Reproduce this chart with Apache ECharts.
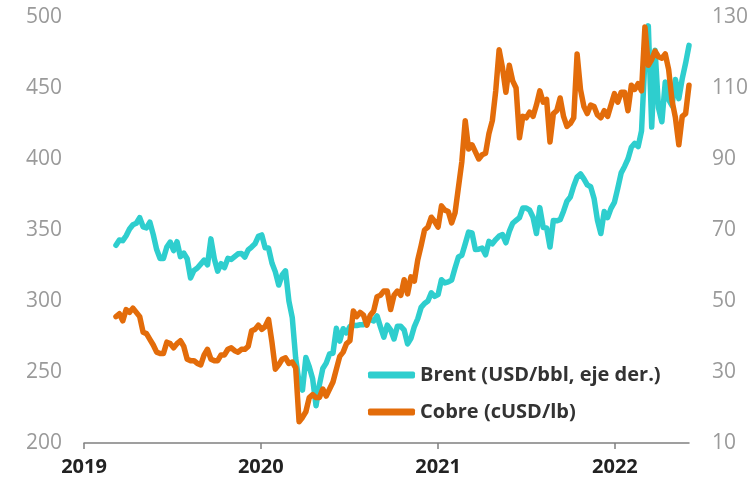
<!DOCTYPE html>
<html>
<head>
<meta charset="utf-8">
<script src="https://cdn.jsdelivr.net/npm/echarts@6/dist/echarts.min.js"></script>
<style>
  html, body { margin: 0; padding: 0; background: #fff; }
  #chart { width: 753px; height: 481px; }
</style>
</head>
<body>
<div id="chart"></div>
<script>
// semanal (viernes), desde 2019-03-08 hasta 2022-06-03
const firstWeek = '2019-03-08'

// Brent, USD/bbl (eje derecho)
const brent2019 = [65.7, 67.2, 67.0, 68.4, 70.3, 71.5, 71.9, 73.5, 70.9, 70.6, 72.2, 68.7, 64.5,
  62.0, 62.0, 65.2, 66.6, 64.2, 66.7, 62.5, 63.5, 61.9, 56.5, 58.6, 59.3, 60.4,
  61.5, 60.2, 67.5, 61.9, 58.4, 60.5, 59.4, 62.0, 61.7, 62.5, 63.3, 63.4, 62.4,
  64.4, 65.2, 66.1, 68.2]
const brent2020 = [68.6, 65.0, 64.9, 60.7, 58.2, 54.5, 57.3, 58.5, 50.0, 45.3, 33.9, 27.0, 24.9,
  34.1, 31.5, 28.1, 20.5, 26.4, 31.0, 32.5, 35.1, 35.3, 42.3, 38.7, 42.2, 41.0,
  42.8, 43.2, 43.1, 43.3, 43.3, 44.4, 44.8, 44.4, 45.8, 42.7, 39.8, 43.2, 41.9,
  39.3, 42.9, 42.9, 41.8, 37.9, 39.5, 42.8, 45.0, 48.2, 49.3, 50.0, 52.3, 51.3]
const brent2021 = [51.8, 56.0, 55.1, 55.4, 55.9, 59.3, 62.4, 62.9, 66.1, 69.4, 69.2, 64.5, 64.6,
  64.9, 63.0, 66.8, 66.1, 67.3, 68.3, 68.7, 66.4, 69.6, 71.9, 72.7, 73.5, 76.2,
  76.2, 75.6, 73.6, 69.0, 76.3, 70.7, 70.6, 65.2, 72.7, 72.6, 72.9, 75.3, 78.1,
  79.3, 82.4, 84.9, 85.8, 84.4, 82.7, 82.2, 78.9, 72.7, 69.0, 75.2, 73.5, 76.1, 77.8]
const brent2022 = [81.8, 86.1, 87.9, 90.0, 93.3, 94.4, 93.5, 97.9, 118.1, 127.5, 99.0, 120.6,
  104.4, 100.5, 111.7, 106.7, 105.0, 112.4, 107.0, 112.6, 117.0, 122.0]

// Cobre, cUSD/lb (eje izquierdo)
const cobre2019 = [289, 291, 286, 294, 292, 295, 292, 289, 278, 277, 273, 269, 264,
  263, 263, 271, 270, 267, 270, 272, 268, 259, 258, 258, 256, 255,
  262, 266, 259, 258, 258, 262, 262, 266, 267, 265, 264, 266, 266,
  268, 279, 280, 283]
const cobre2020 = [280, 282, 287, 271, 252, 255, 259, 260, 256, 257, 253, 215, 218,
  222, 232, 234, 232, 232, 238, 233, 238, 243, 252, 261, 264, 270,
  272, 293, 289, 292, 290, 283, 290, 293, 303, 304, 307, 307, 294,
  304, 307, 304, 315, 305, 317, 314, 329, 339, 350, 352, 359, 356]
const cobre2021 = [352, 367, 364, 363, 355, 362, 380, 398, 427, 407, 410, 405, 400,
  403, 404, 418, 427, 448, 477, 464, 447, 466, 455, 450, 415, 430,
  429, 433, 430, 438, 448, 440, 442, 412, 432, 434, 443, 430, 423,
  425, 429, 474, 449, 437, 432, 438, 437, 431, 429, 434, 430, 438, 446]
const cobre2022 = [440, 447, 447, 434, 452, 449, 453, 448, 493, 466, 470, 476,
  472, 471, 474, 463, 441, 429, 410, 430, 432, 452]

const brentVals = brent2019.concat(brent2020, brent2021, brent2022)
const cobreVals = cobre2019.concat(cobre2020, cobre2021, cobre2022)

const dayMs = 24 * 3600 * 1000
const start = new Date(firstWeek + 'T00:00:00Z').getTime()
const weeks = brentVals.map((v, i) => start + i * 7 * dayMs)

const brent = weeks.map((t, i) => [t, brentVals[i]])
const cobre = weeks.map((t, i) => [t, cobreVals[i]])

const teal = '#2ECECE'
const orange = '#E36C0A'
const font = 'Open Sans'

const option = {
  animation: false,
  grid: { left: 84, right: 64, top: 17, bottom: 38 },
  legend: {
    orient: 'vertical',
    left: 368,
    top: 365,
    padding: 0,
    itemWidth: 47,
    itemHeight: 7,
    itemGap: 17,
    icon: 'roundRect',
    textStyle: { fontFamily: font, fontSize: 20, fontWeight: 700, color: '#333' },
    data: ['Brent (USD/bbl, eje der.)', 'Cobre (cUSD/lb)']
  },
  xAxis: {
    type: 'time',
    min: '2019-01-01',
    max: '2022-06-03',
    minInterval: 365 * dayMs,
    maxInterval: 366 * dayMs,
    axisLine: { lineStyle: { color: '#808080', width: 1.5 } },
    axisTick: { show: true, length: 6, lineStyle: { color: '#808080', width: 1.5 } },
    splitLine: { show: false },
    axisLabel: {
      formatter: '{yyyy}',
      margin: 14,
      fontFamily: font, fontSize: 20, fontWeight: 700, color: '#222'
    }
  },
  yAxis: [
    {
      type: 'value', min: 200, max: 500, interval: 50,
      splitLine: { show: false }, axisLine: { show: false }, axisTick: { show: false },
      axisLabel: { margin: 22, fontFamily: font, fontSize: 21, color: '#9a9a9a' }
    },
    {
      type: 'value', min: 10, max: 130, interval: 20, position: 'right',
      splitLine: { show: false }, axisLine: { show: false }, axisTick: { show: false },
      axisLabel: { margin: 23, fontFamily: font, fontSize: 21, color: '#9a9a9a' }
    }
  ],
  series: [
    {
      name: 'Brent (USD/bbl, eje der.)',
      type: 'line', yAxisIndex: 1, showSymbol: false,
      lineStyle: { color: teal, width: 5.5, join: 'round', cap: 'round' },
      itemStyle: { color: teal },
      data: brent
    },
    {
      name: 'Cobre (cUSD/lb)',
      type: 'line', yAxisIndex: 0, showSymbol: false,
      lineStyle: { color: orange, width: 5.5, join: 'round', cap: 'round' },
      itemStyle: { color: orange },
      data: cobre
    }
  ]
}

const chart = echarts.init(document.getElementById('chart'))
chart.setOption(option)
</script>
</body>
</html>
